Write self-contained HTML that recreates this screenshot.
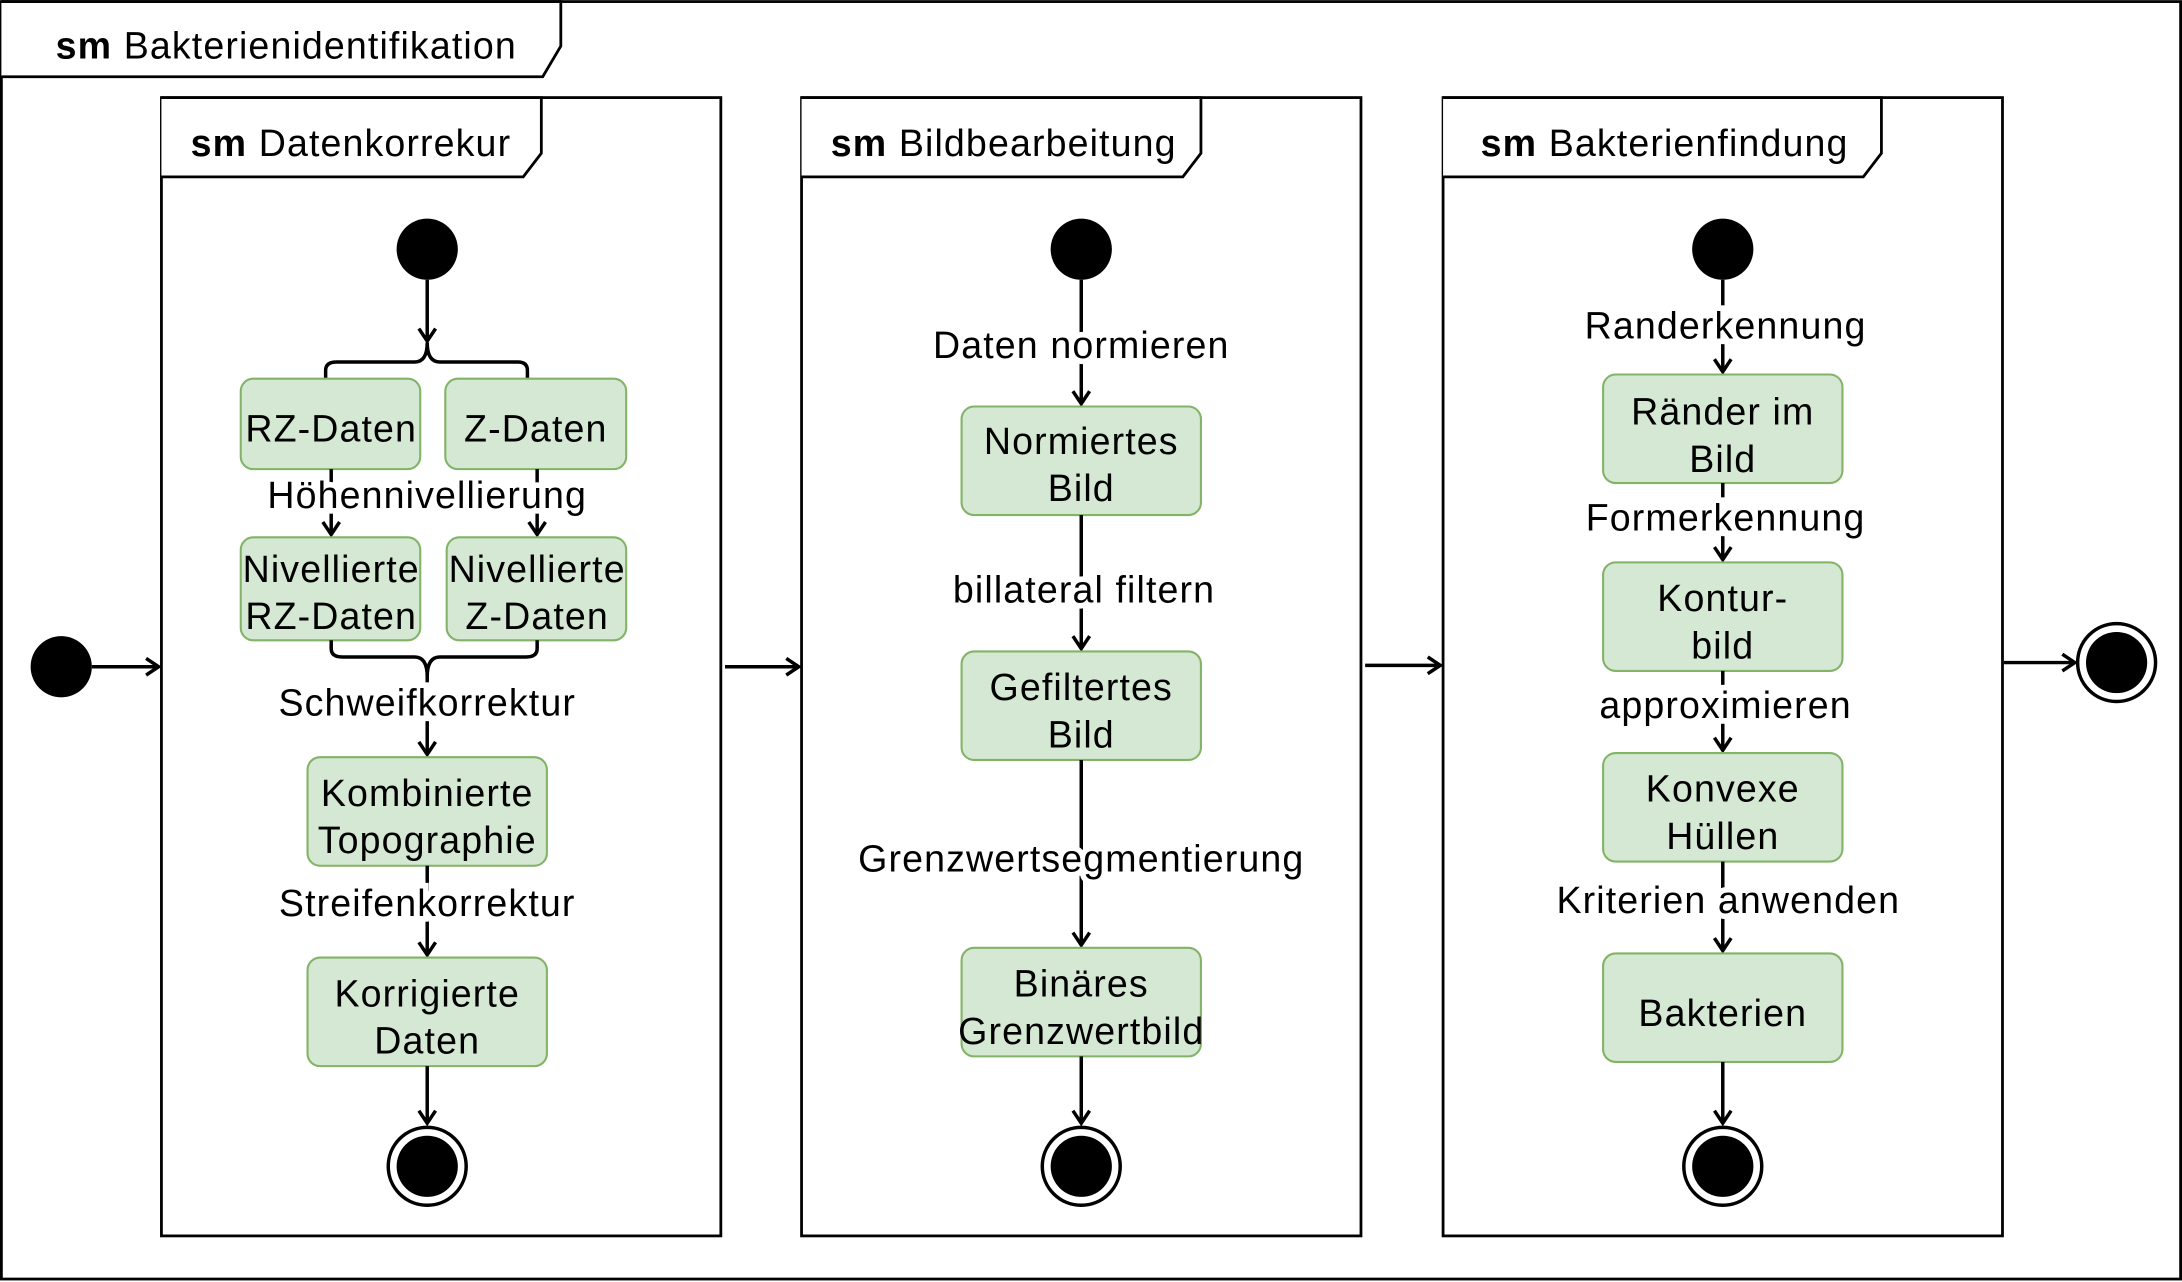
<!DOCTYPE html>
<html><head><meta charset="utf-8"><style>
html,body{margin:0;padding:0;background:#fff;}
svg{display:block;}
text{font-family:"Liberation Sans",Arial,sans-serif;font-size:27px;letter-spacing:0.8px;fill:#000;}
.lbl{paint-order:stroke;stroke:#fff;stroke-width:8px;}
.box{fill:#d5e8d4;stroke:#82b366;stroke-width:1.5;}
.ln{stroke:#000;stroke-width:2.5;fill:none;}
</style></head><body>
<svg width="2182" height="1282" viewBox="0 0 1568 921" xmlns="http://www.w3.org/2000/svg">
<defs>
<marker id="a" markerWidth="14" markerHeight="14" refX="11" refY="7" orient="auto" markerUnits="userSpaceOnUse">
<polyline points="2,1 11,7 2,13" fill="none" stroke="#000" stroke-width="2.5"/>
</marker>
</defs>
<rect x="1" y="1" width="1566" height="918" fill="#fff" stroke="#000" stroke-width="2"/>
<path d="M1,1 H403 V33 L390,55 H1" fill="#fff" stroke="#000" stroke-width="2"/>
<text x="40" y="42"><tspan font-weight="bold">sm</tspan> Bakterienidentifikation</text>

<!-- outer flow -->
<circle cx="44" cy="479" r="22" fill="#000"/>
<line class="ln" x1="66" y1="479" x2="114" y2="479" marker-end="url(#a)"/>
<line class="ln" x1="521" y1="479" x2="574" y2="479" marker-end="url(#a)"/>
<line class="ln" x1="981" y1="478" x2="1035" y2="478" marker-end="url(#a)"/>
<line class="ln" x1="1440" y1="476" x2="1491" y2="476" marker-end="url(#a)"/>
<circle cx="1521" cy="476" r="28" fill="#fff" stroke="#000" stroke-width="2.5"/>
<circle cx="1521" cy="476" r="22" fill="#000"/>

<!-- frame 1 -->
<rect x="116" y="70" width="402" height="818" fill="#fff" stroke="#000" stroke-width="2"/>
<path d="M116,70 H389 V110 L376,127 H116" fill="#fff" stroke="#000" stroke-width="2"/>
<text x="137" y="112"><tspan font-weight="bold">sm</tspan> Datenkorrekur</text>
<circle cx="307" cy="179" r="22" fill="#000"/>
<line class="ln" x1="307" y1="201" x2="307" y2="245" marker-end="url(#a)"/>
<path class="ln" d="M234,272 V266 Q234,260 242,260 H298 Q307,260 307,246 Q307,260 316,260 H372 Q379,260 379,266 V272"/>
<rect class="box" x="173" y="272" width="129" height="65" rx="9"/>
<rect class="box" x="320" y="272" width="130" height="65" rx="9"/>
<text x="238" y="317" text-anchor="middle">RZ-Daten</text>
<text x="385" y="317" text-anchor="middle">Z-Daten</text>
<line class="ln" x1="238" y1="337" x2="238" y2="384" marker-end="url(#a)"/>
<line class="ln" x1="386" y1="337" x2="386" y2="384" marker-end="url(#a)"/>
<text class="lbl" x="307" y="365" text-anchor="middle">Höhennivellierung</text>
<rect class="box" x="173" y="386" width="129" height="74" rx="9"/>
<rect class="box" x="321" y="386" width="129" height="74" rx="9"/>
<text x="238" y="418" text-anchor="middle">Nivellierte</text>
<text x="238" y="452" text-anchor="middle">RZ-Daten</text>
<text x="386" y="418" text-anchor="middle">Nivellierte</text>
<text x="386" y="452" text-anchor="middle">Z-Daten</text>
<path class="ln" d="M238,460 V466 Q238,472 246,472 H298 Q307,472 307,486 Q307,472 316,472 H378 Q386,472 386,466 V460"/>
<line class="ln" x1="307" y1="486" x2="307" y2="542" marker-end="url(#a)"/>
<text class="lbl" x="307" y="514" text-anchor="middle">Schweifkorrektur</text>
<rect class="box" x="221" y="544" width="172" height="78" rx="9"/>
<text x="307" y="579" text-anchor="middle">Kombinierte</text>
<text x="307" y="613" text-anchor="middle">Topographie</text>
<line class="ln" x1="307" y1="622" x2="307" y2="686" marker-end="url(#a)"/>
<text class="lbl" x="307" y="658" text-anchor="middle">Streifenkorrektur</text>
<rect class="box" x="221" y="688" width="172" height="78" rx="9"/>
<text x="307" y="723" text-anchor="middle">Korrigierte</text>
<text x="307" y="757" text-anchor="middle">Daten</text>
<line class="ln" x1="307" y1="766" x2="307" y2="807" marker-end="url(#a)"/>
<circle cx="307" cy="838" r="28" fill="#fff" stroke="#000" stroke-width="2.5"/>
<circle cx="307" cy="838" r="22" fill="#000"/>

<!-- frame 2 -->
<rect x="576" y="70" width="402" height="818" fill="#fff" stroke="#000" stroke-width="2"/>
<path d="M576,70 H863 V110 L850,127 H576" fill="#fff" stroke="#000" stroke-width="2"/>
<text x="597" y="112"><tspan font-weight="bold">sm</tspan> Bildbearbeitung</text>
<circle cx="777" cy="179" r="22" fill="#000"/>
<line class="ln" x1="777" y1="201" x2="777" y2="290" marker-end="url(#a)"/>
<text class="lbl" x="777" y="257" text-anchor="middle">Daten normieren</text>
<rect class="box" x="691" y="292" width="172" height="78" rx="9"/>
<text x="777" y="326" text-anchor="middle">Normiertes</text>
<text x="777" y="360" text-anchor="middle">Bild</text>
<line class="ln" x1="777" y1="370" x2="777" y2="466" marker-end="url(#a)"/>
<text class="lbl" x="779" y="433" text-anchor="middle">billateral filtern</text>
<rect class="box" x="691" y="468" width="172" height="78" rx="9"/>
<text x="777" y="503" text-anchor="middle">Gefiltertes</text>
<text x="777" y="537" text-anchor="middle">Bild</text>
<line class="ln" x1="777" y1="546" x2="777" y2="679" marker-end="url(#a)"/>
<text class="lbl" x="777" y="626" text-anchor="middle">Grenzwertsegmentierung</text>
<rect class="box" x="691" y="681" width="172" height="78" rx="9"/>
<text x="777" y="716" text-anchor="middle">Binäres</text>
<text x="777" y="750" text-anchor="middle">Grenzwertbild</text>
<line class="ln" x1="777" y1="759" x2="777" y2="807" marker-end="url(#a)"/>
<circle cx="777" cy="838" r="28" fill="#fff" stroke="#000" stroke-width="2.5"/>
<circle cx="777" cy="838" r="22" fill="#000"/>

<!-- frame 3 -->
<rect x="1037" y="70" width="402" height="818" fill="#fff" stroke="#000" stroke-width="2"/>
<path d="M1037,70 H1352 V110 L1339,127 H1037" fill="#fff" stroke="#000" stroke-width="2"/>
<text x="1064" y="112"><tspan font-weight="bold">sm</tspan> Bakterienfindung</text>
<circle cx="1238" cy="179" r="22" fill="#000"/>
<line class="ln" x1="1238" y1="201" x2="1238" y2="267" marker-end="url(#a)"/>
<text class="lbl" x="1240" y="243" text-anchor="middle">Randerkennung</text>
<rect class="box" x="1152" y="269" width="172" height="78" rx="9"/>
<text x="1238" y="305" text-anchor="middle">Ränder im</text>
<text x="1238" y="339" text-anchor="middle">Bild</text>
<line class="ln" x1="1238" y1="347" x2="1238" y2="402" marker-end="url(#a)"/>
<text class="lbl" x="1240" y="381" text-anchor="middle">Formerkennung</text>
<rect class="box" x="1152" y="404" width="172" height="78" rx="9"/>
<text x="1238" y="439" text-anchor="middle">Kontur-</text>
<text x="1238" y="473" text-anchor="middle">bild</text>
<line class="ln" x1="1238" y1="482" x2="1238" y2="539" marker-end="url(#a)"/>
<text class="lbl" x="1240" y="516" text-anchor="middle">approximieren</text>
<rect class="box" x="1152" y="541" width="172" height="78" rx="9"/>
<text x="1238" y="576" text-anchor="middle">Konvexe</text>
<text x="1238" y="610" text-anchor="middle">Hüllen</text>
<line class="ln" x1="1238" y1="619" x2="1238" y2="683" marker-end="url(#a)"/>
<text class="lbl" x="1242" y="656" text-anchor="middle">Kriterien anwenden</text>
<rect class="box" x="1152" y="685" width="172" height="78" rx="9"/>
<text x="1238" y="737" text-anchor="middle">Bakterien</text>
<line class="ln" x1="1238" y1="763" x2="1238" y2="807" marker-end="url(#a)"/>
<circle cx="1238" cy="838" r="28" fill="#fff" stroke="#000" stroke-width="2.5"/>
<circle cx="1238" cy="838" r="22" fill="#000"/>
</svg>
</body></html>
